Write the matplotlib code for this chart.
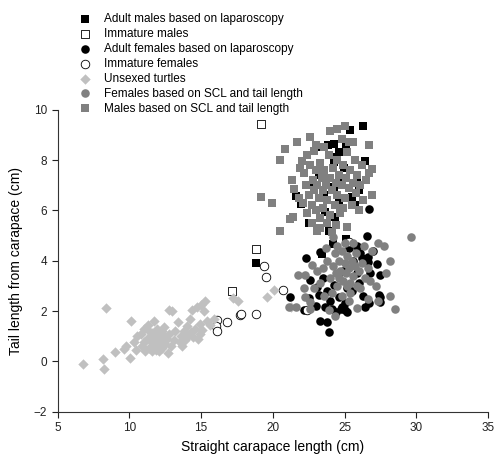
import numpy as np
import matplotlib
matplotlib.use('Agg')
import matplotlib.pyplot as plt

plt.rcParams['font.family'] = ['Liberation Sans', 'DejaVu Sans']

# Adult males based on laparoscopy (black squares)
am_x = [18.85, 26.3, 25.35, 24.25, 23.85, 23.05, 25.1, 24.25, 26.4, 24.25, 24.95, 25.9, 24.25,
        21.6, 21.95, 23.55, 24.6, 25.55, 25.75, 23.65, 24.35, 22.55, 25.1, 24.2, 23.4, 24.8,
        23.2, 25.3, 23.9, 26.0, 24.6, 22.5]
am_y = [3.9, 9.35, 9.2, 8.63, 8.6, 8.5, 8.5, 8.13, 7.97, 7.93, 7.67, 7.33, 6.94,
        6.57, 6.24, 6.6, 6.35, 6.55, 6.2, 5.95, 5.75, 5.5, 4.85, 4.65, 4.25, 7.2,
        7.4, 6.9, 5.2, 6.8, 8.3, 7.0]

# Immature males (open squares)
im_x = [17.15, 19.2, 18.85]
im_y = [2.8, 9.45, 4.45]

# Adult females based on laparoscopy (black circles)
af_x = [26.7, 26.55, 21.2, 22.15, 23.3, 23.75, 23.95, 25.2, 24.75, 26.45, 27.45, 27.25, 26.6,
        25.9, 25.9, 23.3, 26.1, 26.2, 26.6, 25.9, 27.5, 23.1, 23.2, 24.6, 23.65, 24.85, 27.4,
        27.5, 26.7, 25.2, 24.25, 22.6, 23.5, 24.0, 25.0, 25.5, 26.0, 26.3, 24.4, 22.5, 23.8,
        25.6, 25.3, 24.9, 26.8, 27.0, 23.0, 24.1, 25.0, 22.3]
af_y = [6.05, 5.0, 2.57, 2.04, 1.6, 1.57, 1.18, 1.97, 2.07, 2.17, 2.57, 3.85, 4.15,
        4.35, 4.6, 4.35, 4.3, 4.1, 3.95, 3.5, 3.45, 2.95, 2.65, 2.55, 2.15, 2.15, 2.65,
        2.35, 2.3, 2.9, 3.05, 3.25, 3.3, 2.4, 2.3, 2.8, 3.1, 2.6, 1.95, 2.5, 2.8,
        4.0, 4.5, 3.6, 3.5, 4.4, 2.2, 2.1, 2.05, 4.1]

# Immature females (open circles)
if_x = [16.1, 16.05, 16.1, 16.8, 17.7, 17.8, 18.8, 19.4, 19.55, 20.7, 22.4, 25.3]
if_y = [1.65, 1.4, 1.2, 1.55, 1.85, 1.9, 1.9, 3.8, 3.35, 2.85, 2.05, 4.75]

# Unsexed turtles (light grey diamonds)
un_x = [6.8, 8.24, 8.2, 8.4, 9.0, 9.6, 9.75, 10.05, 10.1, 10.3, 10.5, 10.55, 10.8, 10.9, 11.0,
        11.1, 11.2, 11.3, 11.35, 11.4, 11.5, 11.55, 11.6, 11.7, 11.75, 11.8, 11.85, 11.9, 12.0,
        12.05, 12.1, 12.2, 12.25, 12.3, 12.4, 12.45, 12.5, 12.6, 12.7, 12.75, 12.8, 12.9, 13.0,
        13.1, 13.2, 13.4, 13.5, 13.6, 13.7, 13.8, 13.9, 14.0, 14.1, 14.2, 14.3, 14.4, 14.45,
        14.6, 14.7, 14.8, 14.9, 14.95, 15.0, 15.1, 15.2, 15.3, 15.4, 15.6, 15.9, 17.25, 17.6,
        19.6, 20.05, 21.3, 11.0, 12.0, 11.57, 11.92]
un_y = [-0.12, -0.3, 0.09, 2.12, 0.38, 0.5, 0.62, 0.15, 1.6, 0.75, 0.45, 1.0, 1.1, 0.6, 0.75,
        0.4, 0.9, 1.45, 0.55, 1.2, 0.8, 0.4, 1.0, 1.6, 0.65, 0.9, 0.45, 1.3, 0.7,
        1.05, 0.4, 0.85, 1.2, 0.55, 1.0, 1.35, 0.7, 0.9, 0.32, 2.05, 1.1, 0.6, 2.0,
        0.85, 1.2, 1.55, 0.75, 1.0, 0.6, 1.2, 0.85, 1.4, 1.0, 1.7, 1.15, 2.05, 0.95,
        1.3, 2.15, 0.9, 1.5, 1.1, 2.25, 1.25, 2.0, 2.4, 1.6, 1.45, 1.7, 2.5, 2.4,
        2.55, 2.85, 2.15, 1.3, 0.5, 1.11, 0.52]

# Females based on SCL and tail length (grey circles)
fs_x = [29.6, 28.5, 28.15, 28.15, 27.3, 27.75, 27.9, 21.1, 21.75, 22.25, 22.75, 22.15, 22.25,
        22.6, 23.95, 25.85, 26.6, 25.3, 24.2, 26.35, 23.5, 23.8, 24.0, 24.2, 24.3, 24.4, 24.5,
        24.6, 24.7, 24.8, 24.9, 25.0, 25.1, 25.2, 25.3, 25.4, 25.5, 25.6, 25.7, 25.8, 25.9,
        26.0, 26.2, 26.4, 26.6, 23.3, 23.1, 22.9, 23.6, 24.1, 24.8, 25.4, 26.1, 26.8, 27.2,
        23.7, 24.5, 25.6, 22.6, 24.3, 26.9, 27.3, 21.6, 24.6, 25.2, 25.0]
fs_y = [4.93, 2.1, 2.6, 4.0, 4.7, 4.6, 3.5, 2.17, 3.43, 3.43, 3.83, 2.9, 2.57,
        2.37, 2.04, 2.13, 2.47, 2.4, 4.95, 4.58, 3.7, 4.0, 3.3, 3.8, 4.3, 3.5, 3.0,
        4.0, 3.6, 4.4, 3.2, 3.9, 3.5, 4.2, 3.7, 3.1, 4.0, 3.4, 3.8, 4.3, 3.0,
        3.6, 3.9, 3.3, 3.7, 3.1, 3.6, 2.9, 2.6, 2.7, 2.6, 2.7, 2.9, 3.2, 3.0,
        4.5, 4.6, 4.7, 2.1, 1.8, 4.4, 2.4, 2.15, 3.3, 3.0, 4.7]

# Males based on SCL and tail length (grey squares)
ms_x = [19.2, 19.95, 20.5, 21.2, 21.4, 20.5, 20.85, 21.7, 24.0, 24.5, 25.0, 26.7, 26.9, 26.9,
        25.2, 21.35, 21.45, 22.05, 22.7, 23.1, 24.1, 23.3, 22.4, 24.8, 25.3, 22.9,
        22.2, 22.3, 22.5, 22.6, 22.7, 22.8, 22.9, 23.0, 23.0, 23.1, 23.2, 23.3, 23.4, 23.5,
        23.5, 23.6, 23.7, 23.8, 23.9, 24.0, 24.0, 24.1, 24.2, 24.3, 24.4, 24.5, 24.5, 24.6,
        24.7, 24.8, 24.9, 25.0, 25.1, 25.2, 25.3, 25.4, 25.5, 25.6, 25.7, 25.8, 25.9, 26.0,
        26.1, 26.2, 26.3, 26.5, 22.1, 22.4, 23.8, 24.4, 23.0, 23.6, 21.8, 21.9, 23.3, 24.9,
        22.6, 26.7, 25.6]
ms_y = [6.55, 6.3, 5.2, 5.65, 5.75, 8.0, 8.45, 8.7, 9.15, 9.25, 9.35, 8.6, 7.65, 6.6,
        5.35, 7.2, 6.85, 7.95, 5.5, 5.2, 5.15, 5.3, 8.2, 8.85, 8.7, 8.35,
        7.5, 7.0, 6.6, 7.8, 6.2, 7.2, 6.8, 7.6, 6.0, 7.0, 6.5, 7.9, 7.3, 6.8,
        6.1, 7.6, 7.0, 6.4, 8.2, 7.3, 5.8, 6.8, 7.7, 6.2, 7.1, 8.0, 6.6, 7.4,
        5.9, 7.0, 7.8, 6.5, 7.3, 8.3, 6.9, 7.6, 6.2, 7.1, 8.0, 6.7, 7.4, 6.0,
        7.0, 7.8, 6.4, 7.2, 6.3, 5.9, 5.5, 5.4, 8.6, 8.5, 6.5, 7.7, 5.7, 6.1,
        8.9, 7.5, 8.7]

labels = ['Adult males based on laparoscopy', 'Immature males',
          'Adult females based on laparoscopy', 'Immature females',
          'Unsexed turtles', 'Females based on SCL and tail length',
          'Males based on SCL and tail length']

fig = plt.figure(figsize=(4.96, 4.61), dpi=100)
ax = fig.add_axes([0.116, 0.107, 0.868, 0.655])

ms = 30
h1 = ax.scatter(am_x, am_y, marker='s', s=ms, c='black', linewidths=0)
h2 = ax.scatter(im_x, im_y, marker='s', s=ms, facecolors='white', edgecolors='black', linewidths=0.6)
h3 = ax.scatter(af_x, af_y, marker='o', s=ms + 8, c='black', linewidths=0)
h4 = ax.scatter(if_x, if_y, marker='o', s=ms + 8, facecolors='white', edgecolors='black', linewidths=0.6)
h5 = ax.scatter(un_x, un_y, marker='D', s=ms - 2, c='#c0c0c0', linewidths=0)
h6 = ax.scatter(fs_x, fs_y, marker='o', s=ms + 8, c='#808080', linewidths=0)
h7 = ax.scatter(ms_x, ms_y, marker='s', s=ms, c='#808080', linewidths=0)

ax.set_xlim(5, 35)
ax.set_ylim(-2, 10)
ax.set_xticks(np.arange(5, 36, 5))
ax.set_yticks(np.arange(-2, 11, 2))
for s in ['top', 'right']:
    ax.spines[s].set_visible(False)
for s in ['left', 'bottom']:
    ax.spines[s].set_linewidth(0.8)
    ax.spines[s].set_color('#333333')
ax.tick_params(direction='out', length=4, width=0.8, labelsize=8.5, colors='#222222')
ax.set_xlabel('Straight carapace length (cm)', fontsize=10, labelpad=4)
ax.set_ylabel('Tail length from carapace (cm)', fontsize=10, labelpad=8)

fig.legend([h1, h2, h3, h4, h5, h6, h7], labels, loc='upper left',
           bbox_to_anchor=(0.148, 0.985), frameon=False, fontsize=8.5,
           handletextpad=1.1, labelspacing=0.25, borderpad=0, handlelength=1.0,
           scatterpoints=1)

fig.savefig('out.png', dpi=100)
